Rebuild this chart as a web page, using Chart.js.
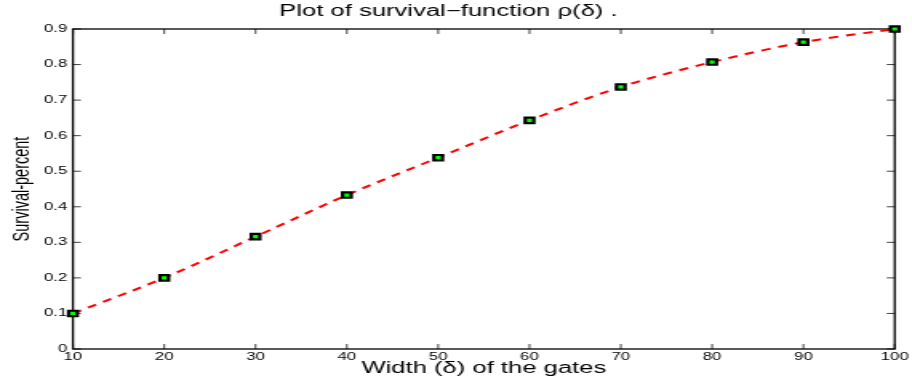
<!DOCTYPE html>
<html>
<head>
<meta charset="utf-8">
<script src="https://cdn.jsdelivr.net/npm/chart.js@4"></script>
<style>
    html, body { margin: 0; padding: 0; background: #fff; overflow: hidden; }
    canvas { display: block; }
</style>
</head>
<body>
<!-- the figure is drawn narrow and stretched sideways, like the reference image -->
<canvas id="chart" width="570" height="380" style="width:912px;height:380px"></canvas>
<script>
const widths = [10, 20, 30, 40, 50, 60, 70, 80, 90, 100];
const survival = [0.1, 0.2, 0.316, 0.433, 0.538, 0.643, 0.737, 0.807, 0.863, 0.9];
const xTicks = [10, 20, 30, 40, 50, 60, 70, 80, 90, 100];
const yTicks = [0, 0.1, 0.2, 0.3, 0.4, 0.5, 0.6, 0.7, 0.8, 0.9];

const font = "'Liberation Sans', Arial, Helvetica, sans-serif";
const points = widths.map((w, i) => ({ x: w, y: survival[i] }));

// box round the plot and ticks pointing inwards, matlab style
const boxTicks = {
    id: "boxTicks",
    beforeDatasetsDraw(chart) {
        const { ctx, chartArea: a, scales: { x, y } } = chart;
        ctx.save();
        ctx.strokeStyle = "#444";
        ctx.lineWidth = 1;
        ctx.beginPath();
        xTicks.forEach(v => {
            const px = x.getPixelForValue(v);
            ctx.moveTo(px, a.bottom);
            ctx.lineTo(px, a.bottom - 5);
            ctx.moveTo(px, a.top);
            ctx.lineTo(px, a.top + 5);
        });
        yTicks.forEach(v => {
            const py = y.getPixelForValue(v);
            ctx.moveTo(a.left, py);
            ctx.lineTo(a.left + 5, py);
            ctx.moveTo(a.right, py);
            ctx.lineTo(a.right - 5, py);
        });
        ctx.stroke();
        ctx.strokeStyle = "#000";
        ctx.lineWidth = 1.3;
        ctx.strokeRect(a.left, a.top, a.right - a.left, a.bottom - a.top);
        ctx.restore();
    }
};

const ctx = document.getElementById("chart").getContext("2d");
new Chart(ctx, {
    type: "line",
    data: {
        datasets: [
            {
                data: points,
                borderColor: "#ff0000",
                borderWidth: 2,
                borderDash: [6, 5],
                pointRadius: 0,
                cubicInterpolationMode: "monotone",
                fill: false,
                clip: false,
                order: 2,
            },
            {
                data: points,
                showLine: false,
                pointStyle: "rect",
                pointRadius: 3.8,
                pointBackgroundColor: "#00ff00",
                pointBorderColor: "#000",
                pointBorderWidth: 2.2,
                clip: false,
                order: 1,
            },
        ],
    },
    options: {
        responsive: false,
        animation: false,
        layout: { padding: { right: 9.4 } },
        plugins: {
            legend: { display: false },
            tooltip: { enabled: false },
            title: {
                display: true,
                text: "Plot of survival\u2212function \u03c1(\u03b4) .",
                color: "#000",
                font: { family: font, size: 16, weight: "normal" },
                padding: { top: 2.4, bottom: 7.4 },
            },
        },
        scales: {
            x: {
                type: "linear",
                min: 10,
                max: 100,
                afterBuildTicks: scale => { scale.ticks = xTicks.map(v => ({ value: v })); },
                afterFit: scale => { scale.height = 31; },
                grid: { drawOnChartArea: false, drawTicks: false },
                border: { display: false },
                ticks: {
                    color: "#000",
                    padding: 2,
                    font: { family: font, size: 10.5 },
                    callback: v => String(v),
                },
                title: {
                    display: true,
                    text: "Width (\u03b4) of the gates",
                    color: "#000",
                    font: { family: font, size: 16 },
                    padding: { top: 0, bottom: 1.4 },
                },
            },
            y: {
                min: 0,
                max: 0.9,
                afterBuildTicks: scale => { scale.ticks = yTicks.map(v => ({ value: v })); },
                afterFit: scale => { scale.width = 45.6; },
                grid: { drawOnChartArea: false, drawTicks: false },
                border: { display: false },
                ticks: {
                    color: "#000",
                    padding: 3.5,
                    font: { family: font, size: 10.5 },
                    callback: v => String(+v.toFixed(1)),
                },
                title: {
                    display: true,
                    text: "Survival-percent",
                    color: "#000",
                    font: { family: font, size: 14.5 },
                    padding: { top: 5, bottom: 0 },
                },
            },
        },
    },
    plugins: [boxTicks],
});
</script>
</body>
</html>
